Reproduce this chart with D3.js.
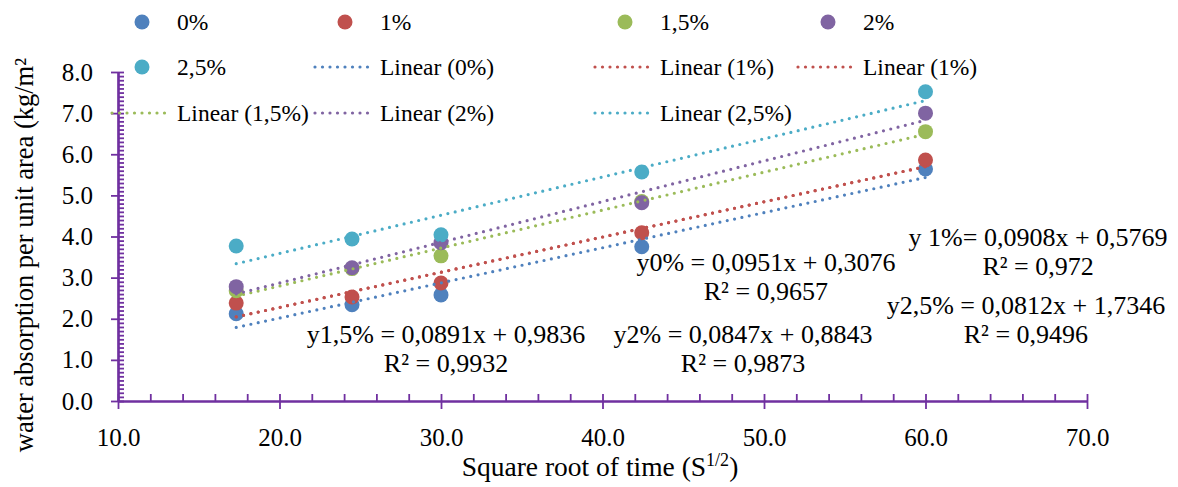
<!DOCTYPE html>
<html>
<head>
<meta charset="utf-8">
<script src="https://cdnjs.cloudflare.com/ajax/libs/d3/7.8.5/d3.min.js"></script>
<style>
  body { margin: 0; background: #fff; }
</style>
</head>
<body>
<div class="scatter"></div>
<script>
// data
var times = [17.32, 24.49, 30.0, 42.43, 60.0];   // square root of time
var seriesNames = ["0%", "1%", "1,5%", "2%", "2,5%"];
var seriesColors = ["#4F81BD", "#C0504D", "#9BBB59", "#8064A2", "#4BACC6"];
var abs0 = [2.12, 2.34, 2.58, 3.75, 5.64];
var abs1 = [2.38, 2.53, 2.87, 4.09, 5.86];
var abs15 = [2.68, 3.22, 3.53, 4.85, 6.55];
var abs2 = [2.78, 3.24, 3.85, 4.82, 7.0];
var abs25 = [3.77, 3.94, 4.04, 5.57, 7.52];
var seriesValues = [abs0, abs1, abs15, abs2, abs25];

var xTicks = [10, 20, 30, 40, 50, 60, 70];
var yTicks = [0, 1, 2, 3, 4, 5, 6, 7, 8];

// trendlines shown in legend (the 1% one is listed twice in the original)
var trendSeries = [0, 1, 1, 2, 3, 4];
var trendNames = ["Linear (0%)", "Linear (1%)", "Linear (1%)", "Linear (1,5%)", "Linear (2%)", "Linear (2,5%)"];

// equation labels, anchored in data units
var eqText = ["y 1%= 0,0908x + 0,5769", "y0% = 0,0951x + 0,3076", "y2,5% = 0,0812x + 1,7346",
              "y1,5% = 0,0891x + 0,9836", "y2% = 0,0847x + 0,8843"];
var r2Text = ["R² = 0,972", "R² = 0,9657", "R² = 0,9496", "R² = 0,9932", "R² = 0,9873"];
var eqX = [66.97, 50.12, 66.22, 30.31, 48.70];
var eqY = [3.77, 3.16, 2.12, 1.41, 1.41];

var width = 1178, height = 487;
var axisColor = "#7030A0";
var serif = "'Liberation Serif', 'Times New Roman', Tinos, 'DejaVu Serif', serif";

var svg = d3.select(".scatter").append("svg")
    .attr("width", width)
    .attr("height", height)
    .style("font-family", serif);

var x = d3.scaleLinear().domain([10, 70]).range([118, 1087]);
var y = d3.scaleLinear().domain([0, 8]).range([401, 72]);

// axes
svg.append("g")
    .attr("transform", "translate(118,0)")
    .call(d3.axisRight(y).tickValues(d3.range(0, 80.5, 1).map(d => d / 10)).tickSize(6).tickSizeOuter(0).tickFormat(""));

svg.append("g")
    .attr("class", "y-axis")
    .attr("transform", "translate(118,0)")
    .call(d3.axisLeft(y).tickValues(yTicks).tickSize(7).tickSizeOuter(0).tickPadding(18).tickFormat(d3.format(".1f")));

svg.append("g")
    .attr("transform", "translate(0,401)")
    .call(d3.axisTop(x).tickValues(d3.range(10, 70.5, 2)).tickSize(7).tickSizeOuter(0).tickFormat(""));

svg.append("g")
    .attr("class", "x-axis")
    .attr("transform", "translate(0,401)")
    .call(d3.axisBottom(x).tickValues(xTicks).tickSize(8).tickSizeOuter(0).tickPadding(19).tickFormat(d3.format(".1f")));

svg.selectAll(".y-axis, .x-axis").selectAll("text")
    .style("font-size", "25px")
    .attr("fill", "#000");
svg.selectAll("g").selectAll("line")
    .attr("stroke", axisColor)
    .attr("stroke-width", 1.8);
svg.selectAll("g").selectAll(".domain")
    .attr("stroke", axisColor)
    .attr("stroke-width", 2.2);

// axis titles
svg.append("text")
    .attr("transform", "translate(33,255) rotate(-90)")
    .attr("text-anchor", "middle")
    .style("font-size", "26.5px")
    .text("water absorption per unit area (kg/m²");

var xTitle = svg.append("text")
    .attr("x", 600)
    .attr("y", 476)
    .attr("text-anchor", "middle")
    .style("font-size", "27.5px");
xTitle.append("tspan").text("Square root of time (S");
xTitle.append("tspan").attr("dy", -10).style("font-size", "18px").text("1/2");
xTitle.append("tspan").attr("dy", 10).text(")");

// points
seriesValues.forEach(function(vals, i) {
  svg.append("g").selectAll("circle")
    .data(vals)
    .enter().append("circle")
      .attr("cx", (d, j) => x(times[j]))
      .attr("cy", d => y(d))
      .attr("r", 7.5)
      .style("fill", seriesColors[i]);
});

// least squares trendlines
function fit(vals) {
  var mx = d3.mean(times), my = d3.mean(vals);
  var sxy = d3.sum(times, (t, j) => (t - mx) * (vals[j] - my));
  var sxx = d3.sum(times, t => (t - mx) * (t - mx));
  var b = sxy / sxx;
  return { b: b, a: my - b * mx };
}

var drawTrend = d3.line()
    .x(d => x(d[0]))
    .y(d => y(d[1]));

trendSeries.forEach(function(s) {
  var f = fit(seriesValues[s]);
  var ext = d3.extent(times);
  svg.append("path")
    .attr("d", drawTrend(ext.map(t => [t, f.a + f.b * t])))
    .attr("stroke", seriesColors[s])
    .attr("stroke-width", 3.2)
    .attr("stroke-linecap", "round")
    .attr("stroke-dasharray", "0,7.5")
    .style("fill", "none");
});

// equation labels
eqText.forEach(function(t, i) {
  svg.append("text")
    .attr("x", x(eqX[i]))
    .attr("y", y(eqY[i]))
    .attr("text-anchor", "middle")
    .style("font-size", "26px")
    .text(t);
  svg.append("text")
    .attr("x", x(eqX[i]))
    .attr("y", y(eqY[i]) + 29)
    .attr("text-anchor", "middle")
    .style("font-size", "26px")
    .text(r2Text[i]);
});

// legend
var legendCols = [177, 380, 660, 863];
var legendRows = [30, 75, 121];
var legendItems = seriesNames.map((n, i) => ({ label: n, kind: "dot", color: seriesColors[i] }))
  .concat(trendNames.map((n, i) => ({ label: n, kind: "line", color: seriesColors[trendSeries[i]] })));

var legend = svg.append("g").attr("class", "legend");
legendItems.forEach(function(d, i) {
  var cx = legendCols[i % 4], cy = legendRows[Math.floor(i / 4)];
  if (d.kind == "dot") {
    legend.append("circle")
      .attr("cx", cx - 35)
      .attr("cy", cy - 8)
      .attr("r", 7.5)
      .style("fill", d.color);
  } else {
    legend.append("line")
      .attr("x1", cx - 65)
      .attr("x2", cx - 9)
      .attr("y1", cy - 8)
      .attr("y2", cy - 8)
      .attr("stroke", d.color)
      .attr("stroke-width", 3.2)
      .attr("stroke-linecap", "round")
      .attr("stroke-dasharray", "0,7.5");
  }
  legend.append("text")
    .attr("x", cx)
    .attr("y", cy)
    .style("font-size", "23.5px")
    .text(d.label);
});

// every text in the serif face, black
svg.selectAll("text")
    .style("font-family", serif)
    .attr("fill", "#000");
</script>
</body>
</html>
